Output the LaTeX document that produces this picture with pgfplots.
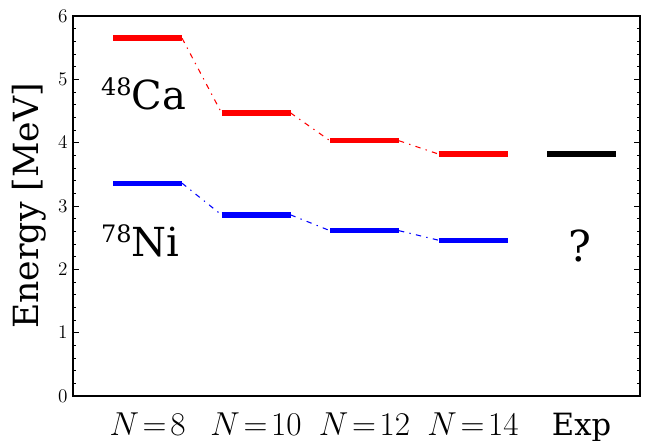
\documentclass[border=0pt]{standalone}
\usepackage{fontspec}
\setmainfont{DejaVu Serif}
\usepackage{pgfplots}
\pgfplotsset{compat=1.18}
\begin{document}
\begin{tikzpicture}
\begin{axis}[
    at={(0,0)}, anchor=south west,
    width=425.25pt, height=285pt, scale only axis,
    xmin=-0.687, xmax=4.539,
    ymin=0, ymax=6,
    xtick={0,1,2,3,4},
    xticklabels={$N\mkern2mu{=}\mkern2mu8$,$N\mkern2mu{=}\mkern2mu10$,$N\mkern2mu{=}\mkern2mu12$,$N\mkern2mu{=}\mkern2mu14$,Exp},
    x tick label style={font=\fontsize{23}{25}\selectfont, anchor=base, yshift=-30pt},
    xtick style={draw=none},
    ytick={0,1,2,3,4,5,6},
    minor y tick num=4,
    y tick label style={font=\fontsize{14}{16}\selectfont, xshift=-0.5pt},
    ytick pos=both,
    tick align=inside,
    major tick length=4.5pt, minor tick length=2.5pt,
    every tick/.style={black, line width=0.6pt},
    axis line style={line width=1.1pt},
    ylabel={Energy [MeV]},
    ylabel style={font=\fontsize{26}{28}\selectfont, at={(axis description cs:-0.0776,0.5)}, anchor=center},
    clip=false,
]
% 48Ca levels
\addplot[red, line width=4pt] coordinates {(-0.318,5.65) (0.318,5.65)};
\addplot[red, line width=4pt] coordinates {(0.682,4.47) (1.318,4.47)};
\addplot[red, line width=4pt] coordinates {(1.682,4.03) (2.318,4.03)};
\addplot[red, line width=4pt] coordinates {(2.682,3.82) (3.318,3.82)};
\addplot[red, line width=0.8pt, dash pattern=on 4pt off 4pt on 1pt off 4pt] coordinates {(0.318,5.65) (0.682,4.47)};
\addplot[red, line width=0.8pt, dash pattern=on 4pt off 4pt on 1pt off 4pt] coordinates {(1.318,4.47) (1.682,4.03)};
\addplot[red, line width=0.8pt, dash pattern=on 4pt off 4pt on 1pt off 4pt] coordinates {(2.318,4.03) (2.682,3.82)};
% 78Ni levels
\addplot[blue, line width=4pt] coordinates {(-0.318,3.36) (0.318,3.36)};
\addplot[blue, line width=4pt] coordinates {(0.682,2.86) (1.318,2.86)};
\addplot[blue, line width=4pt] coordinates {(1.682,2.61) (2.318,2.61)};
\addplot[blue, line width=4pt] coordinates {(2.682,2.46) (3.318,2.46)};
\addplot[blue, line width=0.8pt, dash pattern=on 4pt off 4pt on 1pt off 4pt] coordinates {(0.318,3.36) (0.682,2.86)};
\addplot[blue, line width=0.8pt, dash pattern=on 4pt off 4pt on 1pt off 4pt] coordinates {(1.318,2.86) (1.682,2.61)};
\addplot[blue, line width=0.8pt, dash pattern=on 4pt off 4pt on 1pt off 4pt] coordinates {(2.318,2.61) (2.682,2.46)};
% experiment
\addplot[black, line width=5pt] coordinates {(3.682,3.82) (4.318,3.82)};
\node[font=\fontsize{30}{32}\selectfont, anchor=base west, inner sep=0pt] at (axis cs:-0.43,4.53)
  {\raisebox{10.5pt}{\fontsize{18}{20}\selectfont 48}Ca};
\node[font=\fontsize{30}{32}\selectfont, anchor=base west, inner sep=0pt] at (axis cs:-0.43,2.195)
  {\raisebox{10.5pt}{\fontsize{18}{20}\selectfont 78}Ni};
\node[font=\fontsize{32}{34}\selectfont, anchor=base, inner sep=0pt] at (axis cs:3.986,2.116) {?};
\end{axis}
\pgfresetboundingbox
\useasboundingbox (-54.75pt,-33.75pt) rectangle (434.25pt,297pt);
\end{tikzpicture}
\end{document}
